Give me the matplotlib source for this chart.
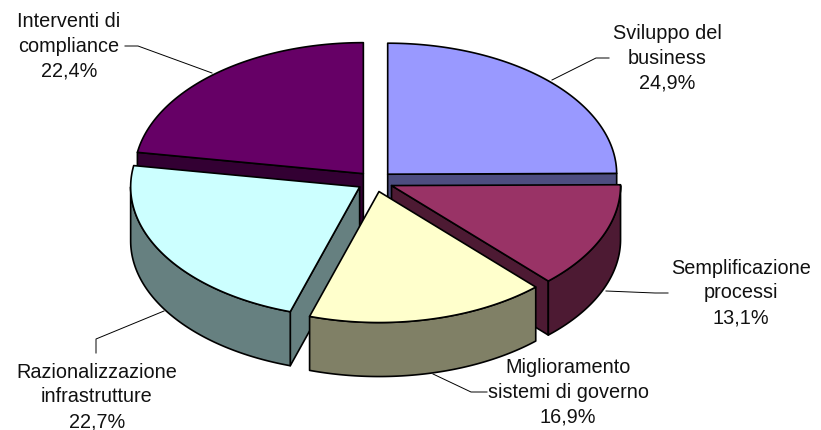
import numpy as np
import matplotlib
matplotlib.use("Agg")
import matplotlib.pyplot as plt
from matplotlib.patches import Polygon

plt.rcParams['font.family'] = ['Liberation Sans', 'DejaVu Sans']

labels = ["Sviluppo del\nbusiness\n24,9%", "Semplificazione\nprocessi\n13,1%",
          "Miglioramento\nsistemi di governo\n16,9%", "Razionalizzazione\ninfrastrutture\n22,7%",
          "Interventi di\ncompliance\n22,4%"]
values = [24.9, 13.1, 16.9, 22.7, 22.4]
top_colors = ['#9999FF', '#993366', '#FFFFCC', '#CCFFFF', '#660066']
side_colors = ['#4D4D80', '#4D1A33', '#808066', '#668080', '#330033']
label_pos = [(667, 58), (741, 293), (568, 392), (97, 397), (69, 46)]
leaders = [[(552, 80), (596, 58), (609, 58)],
           [(606, 291), (655, 293), (668, 293)],
           [(433, 374), (471, 392), (487, 392)],
           [(164, 311), (96, 339), (96, 353)],
           [(212, 73), (138, 46), (125, 46)]]

cx, cy = 375, 181.5
rx, ry = 229, 131
depth = 54
explode = 18
draw_order = [4, 0, 1, 3, 2]

fig = plt.figure(figsize=(8.21, 4.30), dpi=100)
ax = fig.add_axes([0, 0, 1, 1])
ax.set_xlim(0, 821)
ax.set_ylim(430, 0)
ax.axis('off')

total = sum(values)
ends = 90 - np.cumsum(values) / total * 360
starts = np.r_[90, ends[:-1]]


def rim(deg, ox, oy, dy=0):
    t = np.radians(deg)
    return np.c_[ox + rx * np.cos(t), oy - ry * np.sin(t) + dy]


for i in draw_order:
    a0, a1 = starts[i], ends[i]
    mid = np.radians((a0 + a1) / 2)
    ox = cx + explode * np.cos(mid)
    oy = cy - explode * ry / rx * np.sin(mid)
    apex = np.array([[ox, oy]])
    # cut faces, only those turned towards the viewer
    for a, seen in ((a0, np.cos(np.radians(a0)) < -1e-6), (a1, np.cos(np.radians(a1)) > 1e-6)):
        if seen:
            p = rim(np.array([a]), ox, oy)
            face = np.vstack([apex, p, p + [0, depth], apex + [0, depth]])
            ax.add_patch(Polygon(face, fc=side_colors[i], ec='black', lw=1.2, joinstyle='round'))
    # outer wall, front part only
    w0, w1 = min(a0, 0), max(a1, -180)
    if w0 > w1:
        arc = np.linspace(w0, w1, 80)
        wall = np.vstack([rim(arc, ox, oy), rim(arc[::-1], ox, oy, depth)])
        ax.add_patch(Polygon(wall, fc=side_colors[i], ec='black', lw=1.2, joinstyle='round'))
    # top
    arc = np.linspace(a0, a1, 120)
    ax.add_patch(Polygon(np.vstack([apex, rim(arc, ox, oy)]), fc=top_colors[i], ec='black', lw=1.2,
                         joinstyle='round'))

for pts in leaders:
    xs, ys = zip(*pts)
    ax.plot(xs, ys, color='black', lw=0.7)

for txt, (x, y) in zip(labels, label_pos):
    ax.text(x, y, txt, ha='center', va='center', fontsize=14.3, color='#111111', linespacing=1.38)

fig.savefig("out.png", dpi=100)
